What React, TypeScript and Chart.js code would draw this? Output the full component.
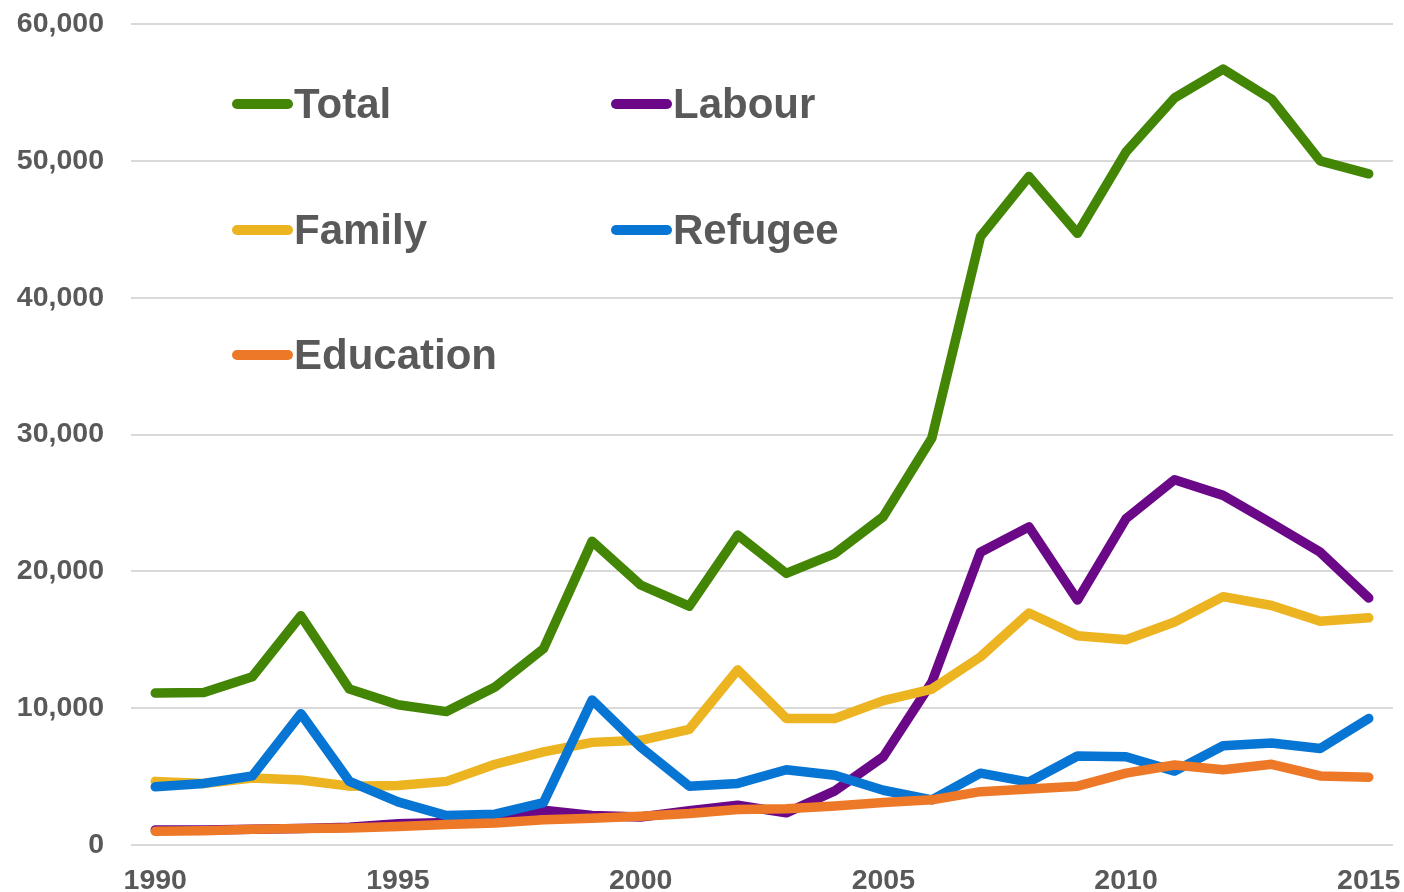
import React, { useEffect, useRef } from "react";
import { Chart, registerables } from "chart.js";

Chart.register(...registerables);

const years = [
  "1990", "1991", "1992", "1993", "1994", "1995", "1996", "1997", "1998", "1999",
  "2000", "2001", "2002", "2003", "2004", "2005", "2006", "2007", "2008", "2009",
  "2010", "2011", "2012", "2013", "2014", "2015",
];

const total = [
  11100, 11150, 12300, 16750, 11400, 10250, 9750, 11550, 14350, 22200,
  19000, 17450, 22650, 19850, 21300, 24000, 29750, 44450, 48850, 44700,
  50650, 54600, 56700, 54500, 50000, 49050,
];
const labour = [
  1100, 1100, 1150, 1200, 1300, 1550, 1650, 1800, 2550, 2150,
  2050, 2500, 2900, 2350, 3950, 6450, 11900, 21400, 23250, 17900,
  23850, 26700, 25550, 23500, 21400, 18050,
];
const family = [
  4650, 4500, 4900, 4750, 4300, 4350, 4650, 5900, 6800, 7500,
  7650, 8450, 12800, 9250, 9250, 10550, 11400, 13750, 16950, 15300,
  15000, 16300, 18150, 17500, 16350, 16600,
];
const refugee = [
  4250, 4500, 5050, 9600, 4650, 3150, 2150, 2250, 3100, 10600,
  7150, 4300, 4500, 5500, 5100, 4000, 3300, 5250, 4600, 6500,
  6450, 5400, 7250, 7450, 7050, 9250,
];
const education = [
  1000, 1050, 1150, 1200, 1250, 1350, 1500, 1600, 1850, 1950,
  2100, 2300, 2600, 2650, 2850, 3100, 3300, 3900, 4100, 4300,
  5250, 5850, 5500, 5900, 5050, 4950,
];

const seriesNames = ["Total", "Labour", "Family", "Refugee", "Education"];
const seriesColors = ["#438505", "#6a0888", "#edb421", "#0775d3", "#ed7827"];
const seriesValues = [total, labour, family, refugee, education];

const yTicks = [0, 10000, 20000, 30000, 40000, 50000, 60000];

const FONT = "'Liberation Sans', Arial, sans-serif";
const TEXT = "#595959";

const CANVAS_H = 912;

const legendPlugin = {
  id: "gridLegend",
  afterDraw(chart: any) {
    const ctx = chart.ctx;
    ctx.save();
    const colX = [232, 611];
    const rowY = [104, 230, 355];
    seriesNames.forEach((name, i) => {
      const col = i % 2;
      const row = Math.floor(i / 2);
      const x = colX[col];
      const y = rowY[row];
      ctx.strokeStyle = seriesColors[i];
      ctx.lineWidth = 10;
      ctx.lineCap = "round";
      ctx.beginPath();
      ctx.moveTo(x + 5, y);
      ctx.lineTo(x + 56, y);
      ctx.stroke();
      ctx.fillStyle = TEXT;
      ctx.font = `bold 42px ${FONT}`;
      ctx.textBaseline = "alphabetic";
      ctx.textAlign = "left";
      ctx.fillText(name, x + 62, y + 14);
    });
    ctx.restore();
  },
};

export default function App() {
  const ref = useRef<HTMLCanvasElement | null>(null);

  useEffect(() => {
    if (!ref.current) return;
    const datasets = seriesNames.map((name, i) => ({
      label: name,
      data: seriesValues[i],
      borderColor: seriesColors[i],
      backgroundColor: seriesColors[i],
      borderWidth: 9.5,
      borderCapStyle: "round" as const,
      borderJoinStyle: "round" as const,
      pointRadius: 0,
      pointHoverRadius: 0,
      tension: 0,
      fill: false,
      order: seriesNames.length - 1 - i,
    }));

    const chart = new Chart(ref.current, {
      type: "line",
      data: { labels: years, datasets },
      options: {
        animation: false,
        responsive: false,
        maintainAspectRatio: false,
        devicePixelRatio: 1,
        layout: { padding: { top: 24, right: 11, left: 0, bottom: 0 } },
        plugins: {
          legend: { display: false },
          tooltip: { enabled: false },
        },
        scales: {
          x: {
            offset: true,
            grid: { display: false, drawTicks: false },
            border: { display: false },
            ticks: {
              autoSkip: false,
              maxRotation: 0,
              minRotation: 0,
              padding: 19,
              color: TEXT,
              font: { family: FONT, size: 28.5, weight: "bold" },
              callback: (_v: any, idx: number) =>
                Number(years[idx]) % 5 === 0 ? years[idx] : "",
            },
            afterFit: (scale: any) => {
              scale.height = CANVAS_H - 845;
              scale.paddingLeft = 0;
              scale.paddingRight = 0;
            },
          },
          y: {
            min: 0,
            max: 60000,
            afterBuildTicks: (scale: any) => {
              scale.ticks = yTicks.map((v) => ({ value: v }));
            },
            grid: { color: "#d9d9d9", lineWidth: 2, drawTicks: false },
            border: { display: false },
            ticks: {
              padding: 27,
              color: TEXT,
              font: { family: FONT, size: 28.5, weight: "bold" },
              callback: (v: any) => Number(v).toLocaleString("en-US"),
            },
            afterFit: (scale: any) => {
              scale.width = 131;
              scale.paddingTop = 0;
              scale.paddingBottom = 0;
            },
          },
        },
      },
      plugins: [legendPlugin],
    });
    return () => chart.destroy();
  }, []);

  return (
    <div
      style={{
        position: "absolute",
        left: 0,
        top: 0,
        width: 1404,
        height: 892,
        overflow: "hidden",
        background: "#fff",
      }}
    >
      <canvas ref={ref} width={1404} height={CANVAS_H} style={{ display: "block" }} />
    </div>
  );
}
